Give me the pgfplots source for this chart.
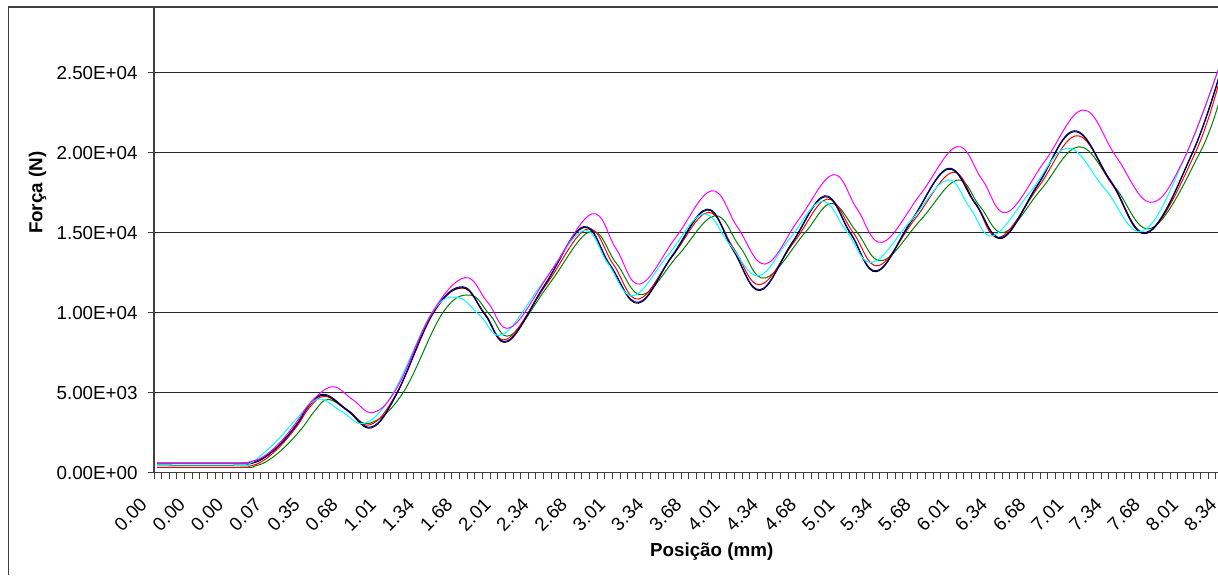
\documentclass[border=0pt]{standalone}
\usepackage{pgfplots}
\pgfplotsset{compat=1.18}
\usepackage{fontspec}
\setmainfont{Liberation Sans}
\definecolor{navyc}{HTML}{000080}
\definecolor{greenc}{HTML}{008000}
\definecolor{cyanc}{HTML}{00FFFF}
\definecolor{magc}{HTML}{FF00FF}
\definecolor{redc}{HTML}{FF0000}
\definecolor{framec}{HTML}{404040}
\begin{document}
\begin{tikzpicture}
\path[use as bounding box] (0,0) rectangle (609pt,-287.5pt);
\begin{scope}
\clip (0,-3.5pt) rectangle (609pt,-287.5pt);
\begin{axis}[
  at={(77pt,-236.35pt)}, anchor=south west,
  scale only axis, width=557.7pt, height=280pt,
  xmin=0, xmax=146, ymin=0, ymax=35000,
  axis x line*=bottom, axis y line*=left,
  axis line style={-, framec, line width=0.6pt},
  tick align=outside,
  xtick={0,1,...,146}, xticklabels={},
  major tick length=3pt,
  tick style={framec, line width=0.5pt},
  extra x ticks={0.5,5.5,...,140.5},
  extra x tick labels={0.00,0.00,0.00,0.07,0.35,0.68,1.01,1.34,1.68,2.01,2.34,2.68,3.01,3.34,3.68,4.01,4.34,4.68,5.01,5.34,5.68,6.01,6.34,6.68,7.01,7.34,7.68,8.01,8.34},
  extra x tick style={major tick length=0pt, grid=none},
  xticklabel style={xshift=-9.5pt, yshift=-11.8pt, rotate=45, anchor=north east, inner sep=0pt},
  ytick={0,5000,10000,15000,20000,25000},
  yticklabels={0.00E+00,5.00E+03,1.00E+04,1.50E+04,2.00E+04,2.50E+04},
  yticklabel style={anchor=east, inner sep=0pt, xshift=-5pt},
  tick label style={font=\fontsize{9.4}{11}\selectfont},
  ymajorgrids, grid style={black!85, line width=0.6pt},
  every axis x label/.style={at={(axis description cs:0.5,-0.1416)}, anchor=center},
  every axis y label/.style={at={(axis description cs:-0.1044,0.5)}, anchor=center, rotate=90},
  xlabel={\fontsize{9.4}{11}\selectfont\bfseries Posição (mm)},
  ylabel={\fontsize{9.4}{11}\selectfont\bfseries Força (N)},
  clip=true,
  every axis plot/.append style={smooth, tension=0.65, line width=0.5pt},
]
% green
\addplot[greenc] coordinates {
(0.4,330)(11.6,330)(13.2,420)(14.9,750)(17.1,1600)(19.4,2800)(21.1,3900)(22.8,4580)
(25.5,3850)(28.3,3100)(32.6,5000)(37.8,10000)(41.4,11100)(44.0,9850)(46.7,8600)
(51.8,11840)(57.1,15080)(60.5,13100)(63.9,11125)(68.6,13590)(73.4,16060)(76.7,14115)
(80.0,12170)(85.2,15000)(88.7,16830)(92.0,15040)(95.3,13250)(100.3,15770)(105.1,18290)
(108.1,16655)(111.3,15020)(116.1,17700)(121.1,20375)(125.8,17830)(130.6,15290)
(136.9,20000)(139.6,23500)};
% red
\addplot[redc] coordinates {
(0.4,340)(11.0,340)(12.6,420)(14.3,750)(16.5,1650)(18.7,2900)(20.4,4100)(22.4,4770)
(25.4,3900)(28.3,3000)(31.8,5000)(36.6,10000)(40.4,11540)(43.3,9950)(46.2,8350)
(51.4,11800)(56.7,15230)(60.1,13040)(63.4,10850)(67.9,13560)(72.5,16270)(75.9,14010)
(79.3,11750)(83.8,14425)(88.1,17100)(91.5,15020)(94.8,12940)(99.6,15855)(104.5,18770)
(107.6,16740)(110.7,14710)(115.8,17885)(120.8,21060)(125.4,18020)(130.0,14980)
(136.3,20000)(139.6,24750)};
% black
\addplot[black] coordinates {
(0.4,470)(11.0,470)(12.6,560)(14.3,880)(16.5,1750)(18.7,3000)(20.4,4240)(22.4,4840)
(25.4,3840)(28.5,2810)(31.8,4940)(36.5,9940)(40.4,11565)(43.3,9880)(46.3,8190)
(51.2,11740)(56.2,15315)(59.7,12940)(63.4,10590)(67.8,13500)(72.4,16420)(75.8,13900)
(79.3,11380)(83.5,14315)(87.8,17250)(91.2,14910)(94.6,12565)(99.2,15760)(103.9,18960)
(107.5,16805)(111.0,14650)(115.7,17980)(120.5,21315)(125.3,18140)(130.0,14980)
(135.9,19940)(139.6,25000)};
% navy
\addplot[navyc] coordinates {
(0.4,600)(11.0,600)(12.6,650)(14.3,940)(16.5,1810)(18.7,3060)(20.4,4300)(22.4,4900)
(25.4,3900)(28.5,2870)(31.8,5000)(36.5,10000)(40.4,11625)(43.3,9940)(46.3,8250)
(51.2,11800)(56.2,15375)(59.7,13000)(63.4,10650)(67.8,13560)(72.4,16480)(75.8,13960)
(79.3,11440)(83.5,14375)(87.8,17310)(91.2,14970)(94.6,12625)(99.2,15820)(103.9,19020)
(107.5,16865)(111.0,14710)(115.7,18040)(120.5,21375)(125.3,18200)(130.0,15040)
(135.9,20000)(139.6,25100)};
% cyan
\addplot[cyanc] coordinates {
(0.4,440)(11.0,440)(12.6,600)(14.3,1200)(16.5,2200)(18.7,3400)(21.5,4600)
(24.5,3850)(27.6,3100)(31.3,5000)(36.4,10000)(39.7,10960)(42.7,9800)(45.7,8650)
(50.9,11890)(56.2,15125)(59.4,13090)(62.7,11060)(67.3,13615)(71.9,16170)(75.4,14240)
(79.1,12310)(83.2,14635)(87.4,16960)(90.7,15050)(94.0,13140)(99.0,15715)(103.8,18290)
(106.8,16550)(109.8,14810)(114.7,17550)(119.6,20290)(124.5,17710)(129.5,15125)
(135.2,20000)(139.6,25600)};
% magenta
\addplot[magc] coordinates {
(0.4,620)(11.0,620)(12.6,700)(14.3,1000)(16.5,1900)(18.7,3200)(20.7,4500)(23.4,5375)
(26.0,4570)(28.7,3770)(31.8,5300)(36.4,10000)(40.7,12190)(43.7,10635)(46.7,9080)
(52.0,12625)(57.3,16170)(60.5,13980)(63.6,11790)(68.3,14710)(73.0,17625)(76.4,15330)
(80.0,13040)(84.4,15830)(88.9,18625)(92.0,16510)(95.3,14400)(100.3,17390)(105.1,20375)
(108.4,18320)(111.6,16270)(116.6,19470)(121.6,22670)(125.9,19785)(130.4,16900)
(134.7,19500)(139.6,25600)};
\end{axis}
\end{scope}
\draw[framec, line width=0.7pt] (4.15pt,-287.5pt) -- (4.15pt,-3.5pt) -- (609pt,-3.5pt);
\end{tikzpicture}
\end{document}
